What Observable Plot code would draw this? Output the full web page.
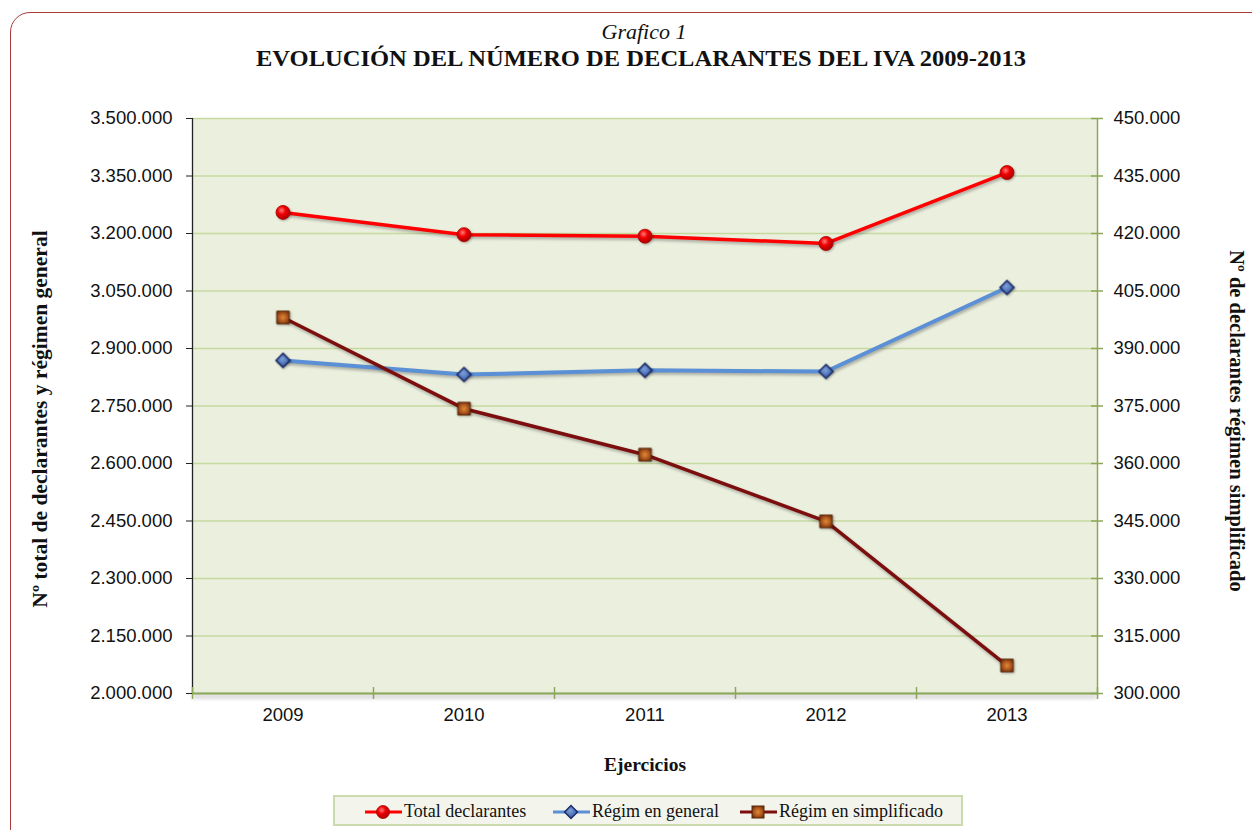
<!DOCTYPE html>
<html>
<head>
<meta charset="utf-8">
<script src="https://cdn.jsdelivr.net/npm/d3@7"></script>
<script src="https://cdn.jsdelivr.net/npm/@observablehq/plot@0.6"></script>
<style>
  html, body { margin: 0; padding: 0; background: #ffffff; }
  #wrap { position: relative; width: 1252px; height: 830px; overflow: hidden; background: #fff; }
  #border { position: absolute; left: 10px; top: 12px; width: 1280px; height: 840px;
            border: 1.5px solid #A93B3B; border-radius: 20px; box-sizing: border-box; }
  #chart { position: absolute; left: 0; top: 0; }
  #sub { position: absolute; left: 0; width: 1288px; top: 19px; text-align: center;
         font-family: "Liberation Serif", serif; font-style: italic; font-size: 22px; color: #111; }
  #title { position: absolute; left: 0; top: 44px; }
  #legend { position: absolute; left: 333px; top: 795px; width: 630px; height: 31px; box-sizing: border-box;
            border: 2px solid #CBDBAE; background: #F3F5EC;
            font-family: "Liberation Serif", serif; font-size: 18px; color: #111; }
  .item { display: flex; align-items: center; position: absolute; top: 4px; }
  .item svg { display: block; margin-right: 2px; }
</style>
</head>
<body>
<svg width="0" height="0" style="position:absolute">
  <defs>
    <radialGradient id="gRed" cx="40%" cy="35%" r="65%">
      <stop offset="0%" stop-color="#FF7A7A"/>
      <stop offset="45%" stop-color="#F00000"/>
      <stop offset="100%" stop-color="#A80000"/>
    </radialGradient>
    <radialGradient id="gBlue" cx="45%" cy="40%" r="65%">
      <stop offset="0%" stop-color="#7EA2DC"/>
      <stop offset="60%" stop-color="#4C6FB4"/>
      <stop offset="100%" stop-color="#2A4A8E"/>
    </radialGradient>
    <radialGradient id="gBrown" cx="50%" cy="50%" r="60%">
      <stop offset="0%" stop-color="#E08A3A"/>
      <stop offset="55%" stop-color="#B0581E"/>
      <stop offset="100%" stop-color="#6E2E0C"/>
    </radialGradient>
  </defs>
</svg>
<div id="wrap">
  <div id="border"></div>
  <div id="chart"></div>
  <div id="sub">Grafico 1</div>
  <svg id="title" width="1252" height="30">
    <text x="641" y="22" text-anchor="middle" textLength="770" lengthAdjust="spacingAndGlyphs"
      font-family="Liberation Serif, serif" font-weight="bold" font-size="23" fill="#111">EVOLUCIÓN DEL NÚMERO DE DECLARANTES DEL IVA 2009-2013</text>
  </svg>
  <div id="legend"></div>
</div>
<script>
// ---- data ----
const years = [2009, 2010, 2011, 2012, 2013];
const totalDeclarantes = [3255000, 3197000, 3193000, 3174000, 3359000];
const regimenGeneral = [2869000, 2832000, 2843000, 2840000, 3059000];
const regimenSimplificado = [398100, 374300, 362300, 344900, 307300];
const leftTicks = [2000000, 2150000, 2300000, 2450000, 2600000, 2750000, 2900000, 3050000, 3200000, 3350000, 3500000];
const rightTicks = [300000, 315000, 330000, 345000, 360000, 375000, 390000, 405000, 420000, 435000, 450000];
const seriesNames = ["Total declarantes", "Régim en general", "Régim en simplificado"];
const leftLabel = "Nº total de declarantes y régimen general";
const rightLabel = "Nº de declarantes régimen simplificado";
const xLabel = "Ejercicios";

// secondary axis mapping (right axis 300.000–450.000 onto left 2.000.000–3.500.000)
const toLeft = v => 2000000 + (v - 300000) * 10;
const fromLeft = v => Math.round((v - 2000000) / 10 + 300000);
const es = d3.formatLocale({decimal: ",", thousands: ".", grouping: [3], currency: ["", "€"]});
const fmt = es.format(",d");

const rows = years.map((y, i) => ({
  year: y, total: totalDeclarantes[i], general: regimenGeneral[i], simp: toLeft(regimenSimplificado[i])
}));
const boundaries = [years[0] - 0.5, ...years.map(y => y + 0.5)];

const cRed = "#FF0000", cBlue = "#5B8FD6", cDark = "#7C0E0E";

const chart = Plot.plot({
  width: 1252, height: 830,
  marginLeft: 192, marginRight: 155, marginTop: 118, marginBottom: 137,
  x: {domain: [boundaries[0], boundaries[boundaries.length - 1]]},
  y: {domain: [leftTicks[0], leftTicks[leftTicks.length - 1]]},
  style: {fontFamily: "Liberation Sans, sans-serif", fontSize: "18.5px", color: "#111", background: "transparent", overflow: "visible"},
  marks: [
    Plot.frame({fill: "#EBEFDE", stroke: null}),
    Plot.gridY(leftTicks, {stroke: "#C6DAA0", strokeOpacity: 1, strokeWidth: 1.5}),
    Plot.ruleY([leftTicks[0]], {stroke: "#8CA75A", strokeWidth: 2}),
    Plot.ruleX([boundaries[0]], {stroke: "#222", strokeWidth: 1.3}),
    Plot.ruleX([boundaries[boundaries.length - 1]], {stroke: "#8CA75A", strokeWidth: 1.5}),
    Plot.ruleX(boundaries, {y1: leftTicks[0], y2: leftTicks[0], insetTop: -6, insetBottom: -6, stroke: "#8CA75A", strokeWidth: 1.5}),
    Plot.ruleY(rightTicks.map(toLeft), {x1: boundaries[boundaries.length - 1], x2: boundaries[boundaries.length - 1], insetLeft: -6, insetRight: -6, stroke: "#8CA75A", strokeWidth: 1.5}),
    Plot.axisY(leftTicks, {anchor: "left", tickSize: 6, tickPadding: 14, tickFormat: fmt, label: null, stroke: "#222"}),
    Plot.axisY(rightTicks.map(toLeft), {anchor: "right", tickSize: 0, tickPadding: 16, tickFormat: d => fmt(fromLeft(d)), label: null}),
    Plot.axisX(years, {anchor: "bottom", tickSize: 0, tickPadding: 14, tickFormat: d => String(d), label: null}),
    Plot.line(rows, {x: "year", y: "total", stroke: cRed, strokeWidth: 3.5}),
    Plot.line(rows, {x: "year", y: "general", stroke: cBlue, strokeWidth: 4}),
    Plot.line(rows, {x: "year", y: "simp", stroke: cDark, strokeWidth: 3.5}),
    Plot.dot(rows, {x: "year", y: "total", r: 7, fill: "url(#gRed)", stroke: "#B00000", strokeWidth: 0.8}),
    Plot.dot(rows, {x: "year", y: "general", symbol: "diamond2", r: 6.3, fill: "url(#gBlue)", stroke: "#1B2A66", strokeWidth: 1.5}),
    Plot.dot(rows, {x: "year", y: "simp", symbol: "square2", r: 8, fill: "url(#gBrown)", stroke: "#5C2608", strokeWidth: 1}),
    Plot.text([leftLabel], {frameAnchor: "left", textAnchor: "middle", dx: -152, dy: 13, rotate: -90, fontWeight: "bold", fontFamily: "Liberation Serif, serif", fontSize: 21.5, fill: "#111"}),
    Plot.text([rightLabel], {frameAnchor: "right", textAnchor: "middle", dx: 139, dy: 15, rotate: 90, fontWeight: "bold", fontFamily: "Liberation Serif, serif", fontSize: 20.5, fill: "#111"}),
    Plot.text([xLabel], {frameAnchor: "bottom", textAnchor: "middle", dy: 77, fontWeight: "bold", fontFamily: "Liberation Serif, serif", fontSize: 19.5, fill: "#111"})
  ]
});
document.getElementById("chart").appendChild(chart);

// soft shadows like the original
d3.select(chart).selectAll('g[aria-label="line"]').style("filter", "drop-shadow(1px 2px 1.5px rgba(0,0,0,0.3))");
d3.select(chart).selectAll('g[aria-label="dot"]').style("filter", "drop-shadow(1px 1.5px 1px rgba(0,0,0,0.3))");
d3.select(chart).selectAll('g[aria-label="rule"]').filter((d, i) => i === 0).style("filter", "drop-shadow(0px 3px 2px rgba(0,0,0,0.35))");

// ---- legend ----
const legendItems = [
  {name: seriesNames[0], color: cRed, left: 30, marker: '<circle cx="18" cy="9" r="6.5" fill="url(#gRed)" stroke="#B00000" stroke-width="0.8"/>'},
  {name: seriesNames[1], color: cBlue, left: 218, marker: '<path d="M18 2.5 L24.5 9 L18 15.5 L11.5 9 Z" fill="url(#gBlue)" stroke="#1B2A66" stroke-width="1.4"/>'},
  {name: seriesNames[2], color: cDark, left: 405, marker: '<rect x="12" y="3" width="12" height="12" fill="url(#gBrown)" stroke="#5C2608" stroke-width="1"/>'}
];
const legend = document.getElementById("legend");
legendItems.forEach(it => {
  const el = document.createElement("div");
  el.className = "item";
  el.style.left = it.left + "px";
  el.innerHTML = `<svg width="37" height="18"><line x1="0" y1="9" x2="37" y2="9" stroke="${it.color}" stroke-width="3"/>${it.marker}</svg><span>${it.name}</span>`;
  legend.appendChild(el);
});
</script>
</body>
</html>
